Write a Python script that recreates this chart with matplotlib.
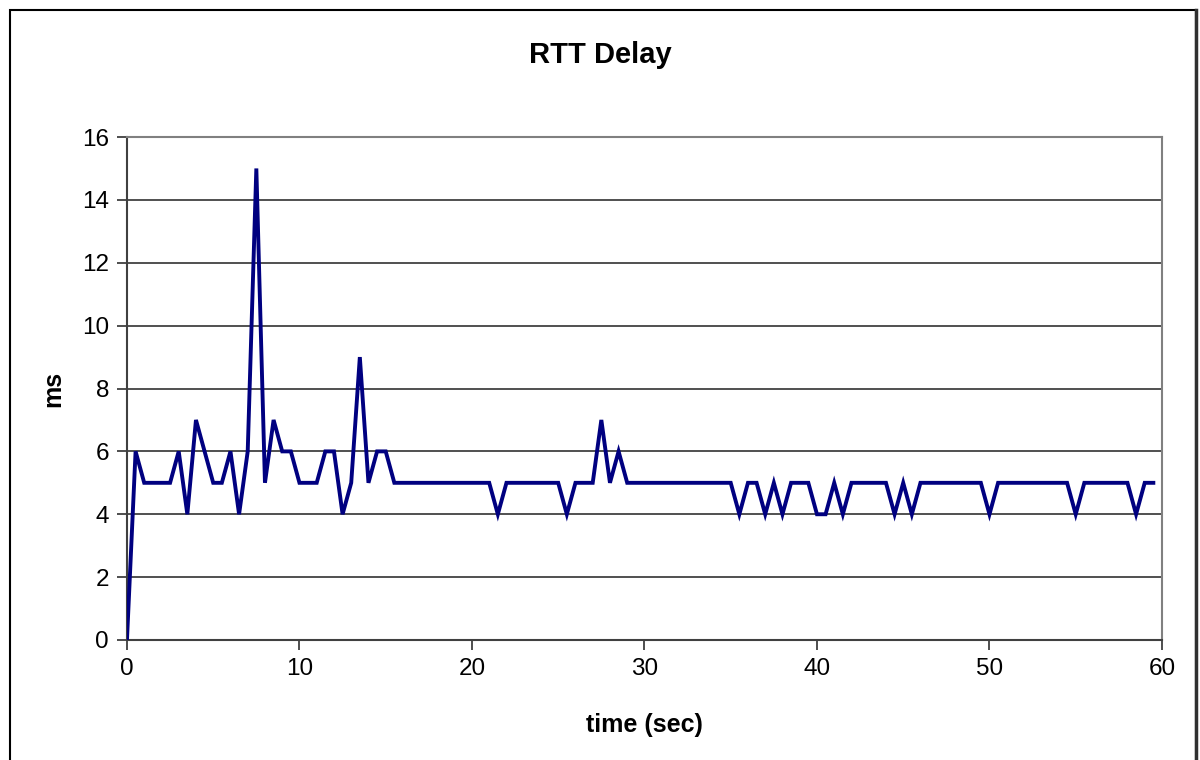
import numpy as np
import matplotlib.pyplot as plt
from matplotlib.patches import Rectangle
from matplotlib.lines import Line2D

plt.rcParams['font.family'] = ['Liberation Sans', 'DejaVu Sans']

# RTT samples, one every 0.5 s
rtt_ms = ([0, 6, 5, 5, 5, 5, 6, 4, 7, 6, 5, 5, 6, 4, 6, 15, 5, 7, 6, 6,
           5, 5, 5, 6, 6, 4, 5, 9, 5, 6, 6]
          + [5] * 12 + [4] + [5] * 7 + [4] + [5] * 3 + [7, 5, 6]
          + [5] * 13 + [4, 5, 5, 4, 5, 4, 5, 5, 5, 4, 4, 5, 4]
          + [5] * 5 + [4, 5, 4] + [5] * 8 + [4] + [5] * 9 + [4]
          + [5] * 6 + [4, 5, 5])
dt = 0.5
time = np.arange(len(rtt_ms)) * dt

x_ticks = [0, 10, 20, 30, 40, 50, 60]
y_ticks = [0, 2, 4, 6, 8, 10, 12, 14, 16]

fig = plt.figure(figsize=(12, 7.6), dpi=100)
ax = fig.add_axes([0.1058, 0.1579, 0.8625, 0.6618])

ax.plot(time, rtt_ms, c='#000080', linewidth=2.8, solid_joinstyle='miter', zorder=3)

ax.set_xlim(0, 60)
ax.set_ylim(0, 16)
ax.set_xticks(x_ticks)
ax.set_yticks(y_ticks)
ax.yaxis.grid(True, color='#202020', linewidth=1.1)
ax.set_axisbelow(True)
for side in ['top', 'right']:
    ax.spines[side].set_color('#808080')
    ax.spines[side].set_linewidth(1.5)
for side in ['left', 'bottom']:
    ax.spines[side].set_color('#404040')
    ax.spines[side].set_linewidth(1.5)
ax.tick_params(direction='out', length=7, width=1.3, colors='#404040',
               labelsize=17.5, labelcolor='black', pad=6)

ax.set_xlabel('time (sec)', fontsize=18, fontweight='bold', labelpad=24)
ax.set_ylabel('ms', fontsize=18, fontweight='bold', labelpad=12)
fig.suptitle('RTT Delay', fontsize=21, fontweight='bold', y=0.928, va='center')

# outer chart frame
fig.patches.append(Rectangle((10 / 1200, -0.02), 1186 / 1200, 1.02 - 10 / 760,
                             transform=fig.transFigure, fill=False,
                             edgecolor='black', linewidth=1.5))
fig.lines.append(Line2D([1196 / 1200, 1196 / 1200], [-0.02, 1 - 10 / 760],
                        transform=fig.transFigure, color='#303030', linewidth=2.5))

fig.savefig('out.png', dpi=100)
